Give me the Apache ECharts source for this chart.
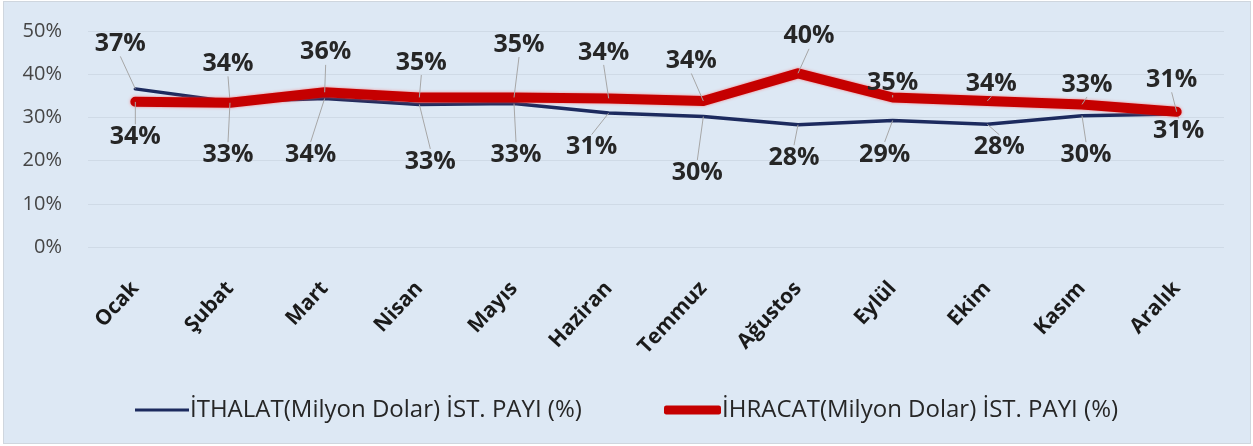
<!DOCTYPE html>
<html>
<head>
<meta charset="utf-8">
<script src="https://cdn.jsdelivr.net/npm/echarts@6/dist/echarts.min.js"></script>
<style>
html,body{margin:0;padding:0;background:#ffffff;}
#frame{position:absolute;left:3px;top:1px;width:1246px;height:441px;background:#dde8f4;border:1px solid #cfd6de;}
#chart{position:absolute;left:0;top:0;width:1253px;height:446px;}
</style>
</head>
<body>
<div id="frame"></div>
<div id="chart"></div>
<script>
const months = ['Ocak','Şubat','Mart','Nisan','Mayıs','Haziran','Temmuz','Ağustos','Eylül','Ekim','Kasım','Aralık'];
const ithalatName = 'İTHALAT(Milyon Dolar) İST. PAYI (%)';
const ihracatName = 'İHRACAT(Milyon Dolar) İST. PAYI (%)';
const ithalat = [36.6, 33.6, 34.4, 33.0, 33.2, 31.0, 30.2, 28.3, 29.3, 28.4, 30.4, 30.8];
const ihracat = [33.6, 33.4, 35.8, 34.6, 34.6, 34.4, 33.8, 40.2, 34.6, 33.8, 33.0, 31.3];
const yTicks = [0, 10, 20, 30, 40, 50];

// label placement offsets (label centre relative to data point), px
const ithalatLabelOffsets = [[-15,-45],[-2,-38],[-14,56],[11,57],[2,51],[-17,34],[-6,56],[-4,33],[-8,34],[12,23],[4,39],[2,17]];
const ihracatLabelOffsets = [[0,35],[-2,52],[1,-40],[2,-35],[5,-53],[-5,-46],[-12,-40],[11,-37],[0,-15],[4,-17],[5,-20],[-5,-32]];

const chart = echarts.init(document.getElementById('chart'), null, {renderer:'canvas'});
const FONT = '"Open Sans", "DejaVu Sans", sans-serif';

const labelCommon = {
  show: true,
  position: 'inside',
  fontFamily: FONT,
  fontSize: 25,
  fontWeight: 'bold',
  color: '#262626',
  formatter: p => Math.round(p.value) + '%'
};
const labelLineCommon = {show: true, lineStyle: {color: '#a6a6a6', width: 1}};

function layoutFrom(offsets){
  return function(params){
    const o = offsets[params.dataIndex] || [0,0];
    return {dx: o[0], dy: o[1], hideOverlap: false};
  };
}

chart.setOption({
  animation: false,
  backgroundColor: 'transparent',
  grid: {left: 88, right: 29, top: 31, bottom: 199, containLabel: false},
  legend: [
    {
      data: [{name: ithalatName, icon: 'rect'}],
      left: 130, top: 393,
      itemWidth: 54, itemHeight: 3, itemGap: 0,
      textStyle: {fontFamily: FONT, fontSize: 24, color: '#262626', padding: [0,0,0,-4]}
    },
    {
      data: [{name: ihracatName, icon: 'roundRect'}],
      left: 659, top: 393,
      itemWidth: 57, itemHeight: 9, itemGap: 0,
      textStyle: {fontFamily: FONT, fontSize: 24, color: '#262626', padding: [0,0,0,-4]}
    }
  ],
  xAxis: {
    type: 'category',
    data: months,
    boundaryGap: true,
    axisLine: {show: false},
    axisTick: {show: false},
    axisLabel: {
      rotate: 47,
      margin: 38,
      interval: 0,
      fontFamily: FONT,
      fontSize: 21,
      fontWeight: 'bold',
      color: '#1a1a1a'
    }
  },
  yAxis: {
    type: 'value',
    min: yTicks[0],
    max: yTicks[yTicks.length-1],
    interval: 10,
    axisLine: {show: false},
    axisTick: {show: false},
    splitLine: {lineStyle: {color: '#cfdae6', width: 1}},
    axisLabel: {
      formatter: '{value}%',
      margin: 26,
      fontFamily: FONT,
      fontSize: 20,
      color: '#454545'
    }
  },
  series: [
    {
      name: ithalatName,
      type: 'line',
      data: ithalat,
      symbol: 'circle',
      symbolSize: 0.1,
      showSymbol: true,
      lineStyle: {color: '#1c2a5e', width: 3.5, cap: 'round', join: 'round'},
      itemStyle: {color: '#1c2a5e'},
      label: labelCommon,
      labelLine: labelLineCommon,
      labelLayout: layoutFrom(ithalatLabelOffsets),
      z: 2
    },
    {
      name: ihracatName,
      type: 'line',
      data: ihracat,
      symbol: 'circle',
      symbolSize: 0.1,
      showSymbol: true,
      lineStyle: {color: '#c50000', width: 10, cap: 'round', join: 'round',
                  shadowColor: 'rgba(255,90,90,0.7)', shadowBlur: 3},
      itemStyle: {color: '#c50000'},
      label: labelCommon,
      labelLine: labelLineCommon,
      labelLayout: layoutFrom(ihracatLabelOffsets),
      z: 3
    }
  ]
});
</script>
</body>
</html>
